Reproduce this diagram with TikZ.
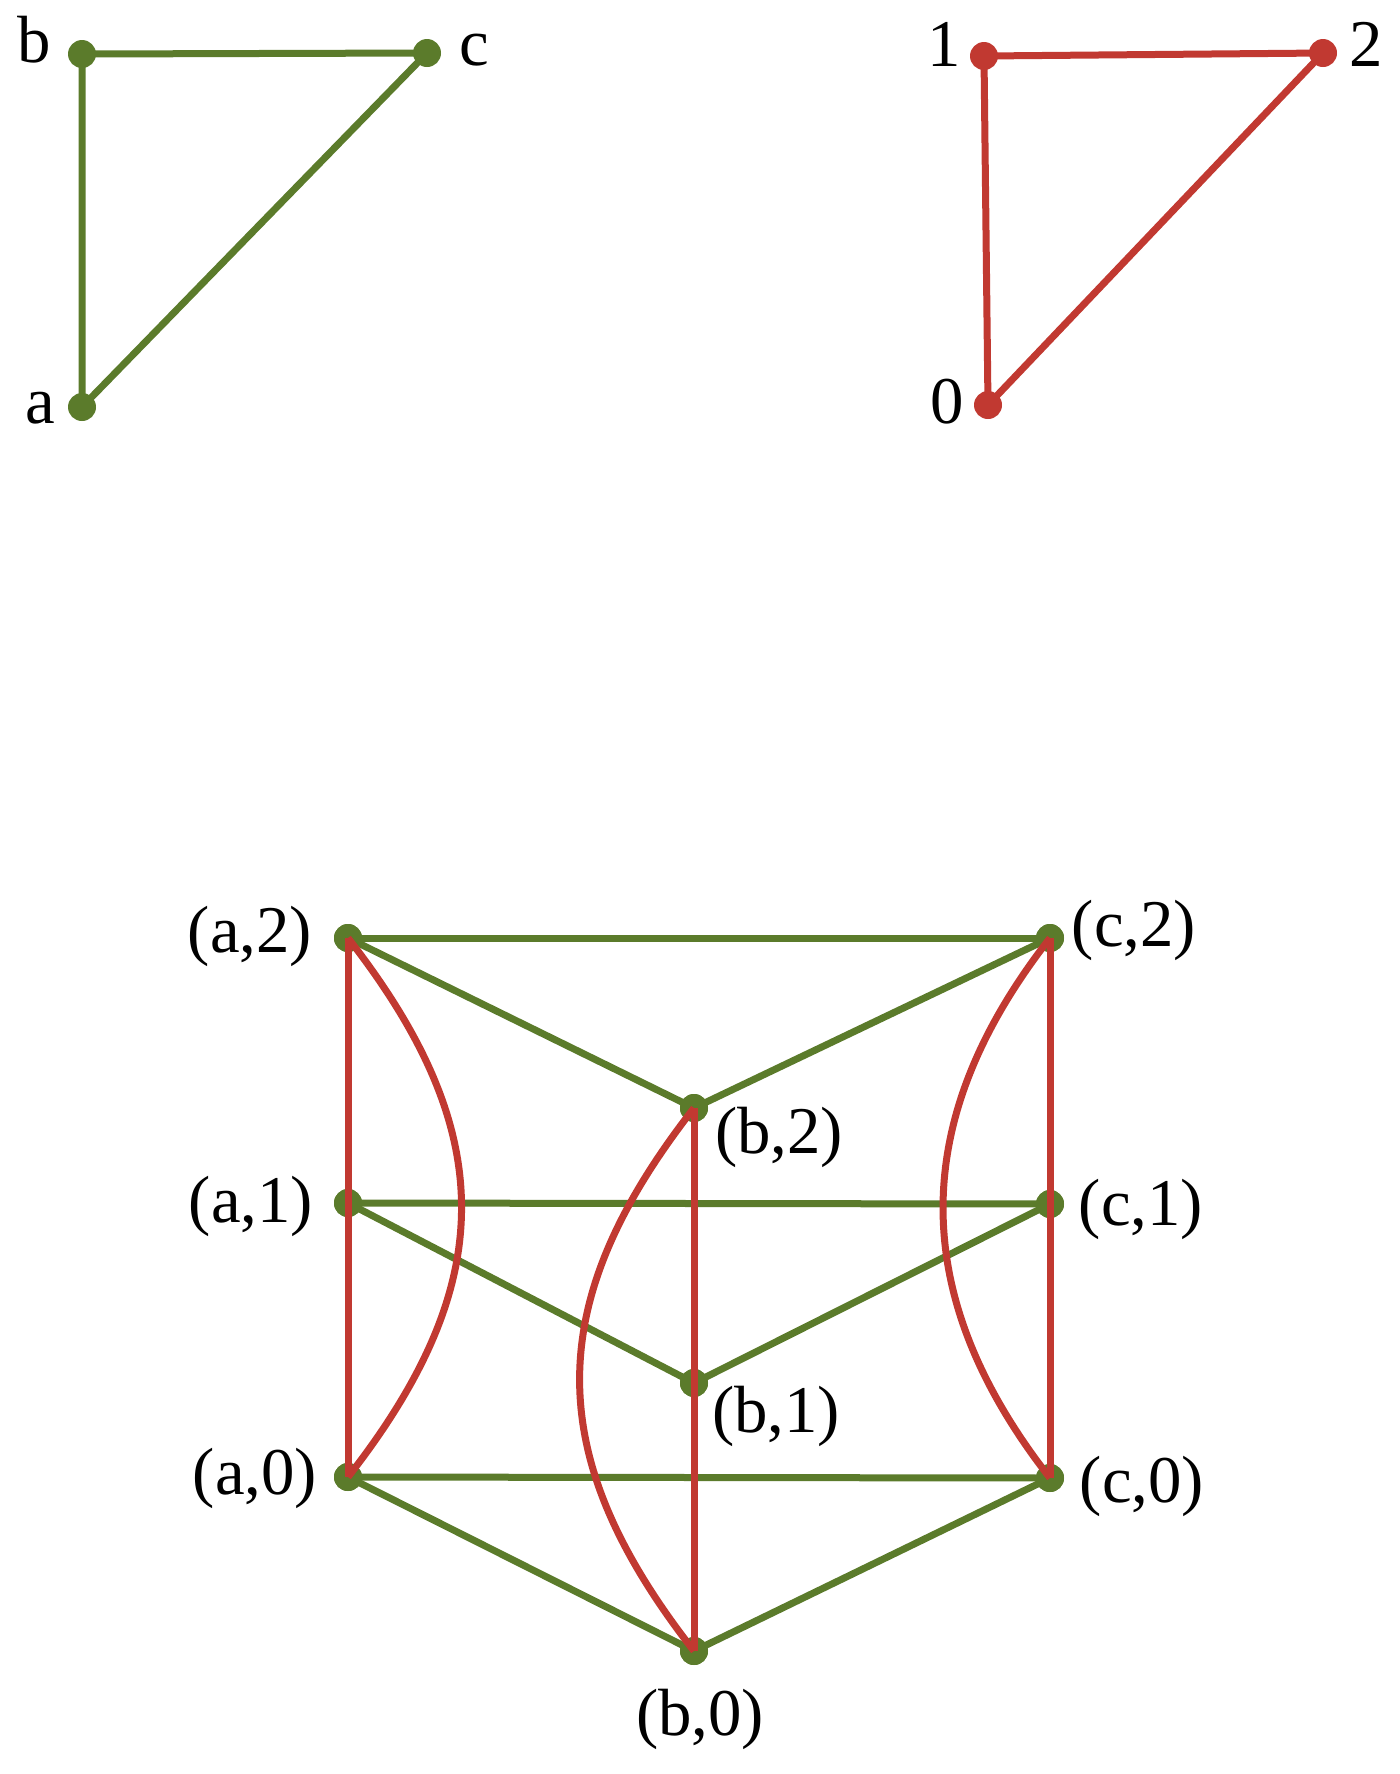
\documentclass[tikz,border=0pt]{standalone}
\usepackage{fontspec}
\setmainfont{Liberation Serif}
\usetikzlibrary{positioning}
\definecolor{grn}{RGB}{91,123,43}
\definecolor{rd}{RGB}{193,57,49}
\tikzset{
    gdot/.style={circle, fill=grn, inner sep=0, minimum size=0.28cm},
    rdot/.style={circle, fill=rd, inner sep=0, minimum size=0.28cm},
    gedge/.style={grn, line width=0.07cm},
    redge/.style={rd, line width=0.07cm},
    lbl/.style={inner sep=0, font=\fontsize{19}{23}\selectfont}
}
\begin{document}
\begin{tikzpicture}
    \useasboundingbox (0,0) rectangle (14,-17.74);
    % first triangle
    \node [gdot] (a) at (0.82,-4.07) {};
    \node [gdot] (b) at (0.82,-0.54) {};
    \node [gdot] (c) at (4.27,-0.53) {};
    \draw [gedge] (a.center) -- (b.center) -- (c.center) -- (a.center);
    \node [lbl] (la) at (0.40,-4.08) {a};
    \node [lbl] (lb) at (0.34,-0.40) {b};
    \node [lbl] (lc) at (4.74,-0.50) {c};
    % second triangle
    \node [rdot] (n0) at (9.88,-4.05) {};
    \node [rdot] (n1) at (9.84,-0.56) {};
    \node [rdot] (n2) at (13.23,-0.53) {};
    \draw [redge] (n0.center) -- (n1.center) -- (n2.center) -- (n0.center);
    \node [lbl] (l0) at (9.47,-4.02) {0};
    \node [lbl] (l1) at (9.44,-0.44) {1};
    \node [lbl] (l2) at (13.66,-0.44) {2};
    % product
    \node [gdot] (a2) at (3.48,-9.38) {};
    \node [gdot] (b2) at (6.94,-11.08) {};
    \node [gdot] (c2) at (10.50,-9.38) {};
    \node [gdot] (a1) at (3.48,-12.03) {};
    \node [gdot] (b1) at (6.94,-13.83) {};
    \node [gdot] (c1) at (10.50,-12.04) {};
    \node [gdot] (a0) at (3.48,-14.77) {};
    \node [gdot] (b0) at (6.94,-16.51) {};
    \node [gdot] (c0) at (10.50,-14.78) {};
    \foreach \i in {0,1,2} {
        \draw [gedge] (a\i.center) -- (b\i.center) -- (c\i.center);
        \draw [gedge] (a\i.center) -- (c\i.center);
        \node [gdot] at (a\i) {};
        \node [gdot] at (b\i) {};
        \node [gdot] at (c\i) {};
    }
    \draw [redge] (a2.center) -- (a1.center) -- (a0.center);
    \draw [redge] (b2.center) -- (b1.center) -- (b0.center);
    \draw [redge] (c2.center) -- (c1.center) -- (c0.center);
    \draw [redge] (a2.center) to[out=-52, in=52, looseness=1.17] (a0.center);
    \draw [redge] (b2.center) to[out=-128, in=128, looseness=1.17] (b0.center);
    \draw [redge] (c2.center) to[out=-128, in=128, looseness=1.1] (c0.center);
    \node [lbl] (la2) at (2.50,-9.36) {(a,2)};
    \node [lbl] (lb2) at (7.79,-11.37) {(b,2)};
    \node [lbl] (lc2) at (11.34,-9.30) {(c,2)};
    \node [lbl] (la1) at (2.51,-12.06) {(a,1)};
    \node [lbl] (lb1) at (7.76,-14.16) {(b,1)};
    \node [lbl] (lc1) at (11.41,-12.09) {(c,1)};
    \node [lbl] (la0) at (2.55,-14.78) {(a,0)};
    \node [lbl] (lb0) at (7.00,-17.19) {(b,0)};
    \node [lbl] (lc0) at (11.42,-14.86) {(c,0)};
\end{tikzpicture}
\end{document}
